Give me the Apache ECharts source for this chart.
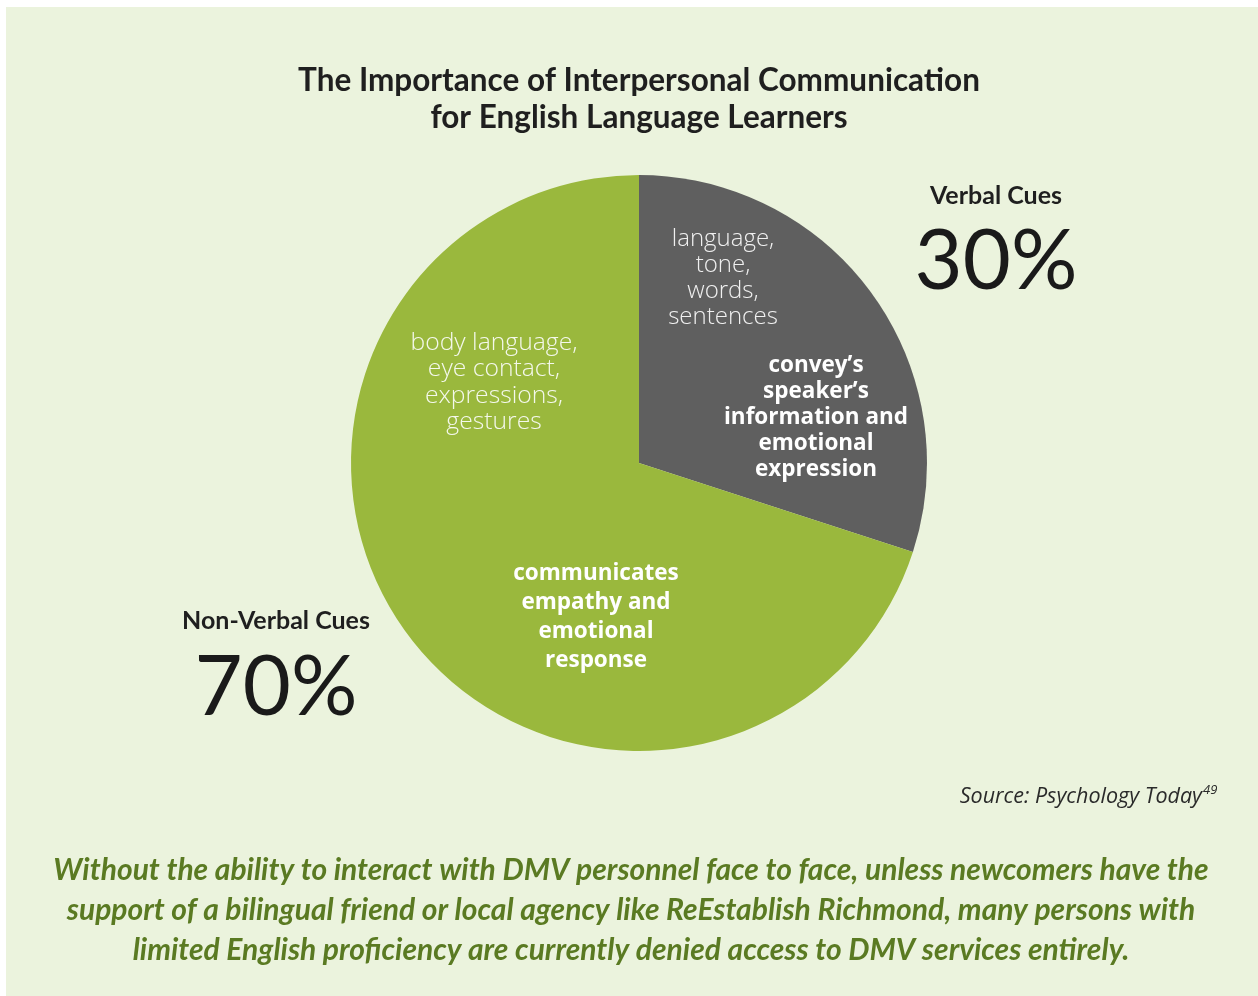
<!DOCTYPE html>
<html>
<head>
<meta charset="utf-8">
<script src="https://cdn.jsdelivr.net/npm/echarts@6/dist/echarts.min.js"></script>
<style>
html,body{margin:0;padding:0;background:#ffffff;}
#bg{position:absolute;left:6px;top:7px;width:1252px;height:989px;background:#EBF3DD;}
#chart{position:absolute;left:0;top:0;width:1258px;height:996px;}
</style>
</head>
<body>
<div id="bg"></div>
<div id="chart"></div>
<script>
// ---- data ----
const categories = ['Verbal Cues', 'Non-Verbal Cues'];
const values = [30, 70];
const sliceColors = ['#5F5F5F', '#9AB83D'];
const titleLines = ['The Importance of Interpersonal Communication', 'for English Language Learners'];
const verbalItems = ['language,', 'tone,', 'words,', 'sentences'];
const verbalRole = ['convey’s', 'speaker’s', 'information and', 'emotional', 'expression'];
const nonVerbalItems = ['body language,', 'eye contact,', 'expressions,', 'gestures'];
const nonVerbalRole = ['communicates', 'empathy and', 'emotional', 'response'];
const sourceText = 'Source: Psychology Today';
const sourceNote = '49';
const footerLines = [
  'Without the ability to interact with DMV personnel face to face, unless newcomers have the',
  'support of a bilingual friend or local agency like ReEstablish Richmond, many persons with',
  'limited English proficiency are currently denied access to DMV services entirely.'
];

const total = values.reduce((a, b) => a + b, 0);
const pct = values.map(v => Math.round(v / total * 100) + '%');

const chart = echarts.init(document.getElementById('chart'), null, {renderer: 'canvas'});

const CAL = 'Lato, "Open Sans", sans-serif';
const SEG = '"Open Sans", "Noto Sans", sans-serif';

function textEl(x, y, text, style) {
  return {
    type: 'text', x: x, y: y, silent: true, z: 100,
    style: Object.assign({text: text, textAlign: 'center', textVerticalAlign: 'middle'}, style)
  };
}
function block(x, y0, lh, lines, style) {
  return lines.map((t, i) => textEl(x, y0 + i * lh, t, style));
}

const graphics = [];
graphics.push(...block(639, 81, 37, titleLines, {font: 'bold 31.5px ' + CAL, fill: '#1f1f1f'}));
graphics.push(textEl(996, 196, categories[0], {font: 'bold 25px ' + CAL, fill: '#1f1f1f'}));
graphics.push(textEl(996, 262, pct[0], {font: '83px ' + CAL, fill: '#1a1a1a'}));
graphics.push(textEl(276, 621, categories[1], {font: 'bold 25px ' + CAL, fill: '#1f1f1f'}));
graphics.push(textEl(276, 688, pct[1], {font: '83px ' + CAL, fill: '#1a1a1a'}));
graphics.push(...block(723, 239, 26.2, verbalItems, {font: '300 24px ' + SEG, fill: '#f0f0f0'}));
graphics.push(...block(816, 366, 26, verbalRole, {font: 'bold 22.5px ' + SEG, fill: '#ffffff'}));
graphics.push(...block(494, 343, 26.3, nonVerbalItems, {font: '300 24.7px ' + SEG, fill: '#f4f8ec'}));
graphics.push(...block(596, 574, 29, nonVerbalRole, {font: 'bold 22.5px ' + SEG, fill: '#ffffff'}));
graphics.push({
  type: 'text', x: 1202, y: 797, silent: true, z: 100,
  style: {text: sourceText, textAlign: 'right', textVerticalAlign: 'middle', font: 'italic 21.5px ' + SEG, fill: '#2a2a2a'}
});
graphics.push({
  type: 'text', x: 1203, y: 790, silent: true, z: 100,
  style: {text: sourceNote, textAlign: 'left', textVerticalAlign: 'middle', font: 'italic 13px ' + SEG, fill: '#2a2a2a'}
});
graphics.push(...block(631, 870, 40, footerLines, {font: 'italic bold 30px ' + CAL, fill: '#5A7A22'}));

chart.setOption({
  animation: false,
  backgroundColor: 'transparent',
  graphic: graphics,
  series: [{
    type: 'pie',
    center: [639, 463],
    radius: [0, 288],
    startAngle: 90,
    clockwise: true,
    silent: true,
    label: {show: false},
    labelLine: {show: false},
    itemStyle: {borderWidth: 0},
    data: categories.map((c, i) => ({name: c, value: values[i], itemStyle: {color: sliceColors[i]}}))
  }]
});
</script>
</body>
</html>
